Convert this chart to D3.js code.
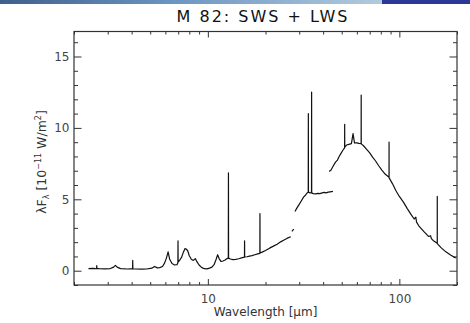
<!DOCTYPE html>
<html><head><meta charset="utf-8">
<script src="https://cdn.jsdelivr.net/npm/d3@7"></script>
<style>
html,body{margin:0;padding:0;background:#fff;}
svg{display:block;}
text{font-family:"DejaVu Sans",sans-serif;}
</style></head>
<body>
<script>
// ---- data ----
const title = "M 82: SWS + LWS";
const xMajorTicks = [10, 100];
const xMinorTicks = [2,3,4,5,6,7,8,9,20,30,40,50,60,70,80,90,200];
const yMajorTicks = [0, 5, 10, 15];
const yMinorTicks = [-1,1,2,3,4,6,7,8,9,11,12,13,14,16];

// SWS segment 1
const swsWave1 = [2.38,2.5,2.6,2.625,2.63,2.635,2.7,2.9,3.1,3.22,3.29,3.36,3.5,3.8,4.0,4.045,4.052,4.06,4.2,4.5,4.8,5.1,5.27,5.45,5.6,5.8,5.95,6.08,6.2,6.32,6.5,6.7,6.9,6.975,6.985,6.995,7.1,7.3,7.45,7.6,7.7,7.85,8.0,8.2,8.4,8.6,8.75,9.0,9.3,9.6,9.9,10.2,10.5,10.8,11.05,11.25,11.45,11.7,12.0,12.3,12.6,12.79,12.81,12.83,13.1,13.5,14.0,14.5,15.0,15.53,15.55,15.57,16.0,16.5,17.0,17.6,18.2,18.69,18.71,18.73,19.2,20.0,21.0,22.0,23.0,24.0,25.0,26.0,27.1];
const swsFlux1 = [0.15,0.16,0.14,0.15,0.35,0.15,0.14,0.13,0.15,0.25,0.37,0.25,0.15,0.12,0.13,0.13,0.72,0.13,0.12,0.11,0.12,0.18,0.3,0.2,0.22,0.3,0.55,0.9,1.32,0.8,0.5,0.4,0.42,0.55,2.1,0.6,0.7,0.95,1.3,1.55,1.52,1.4,1.05,0.8,0.72,0.85,0.65,0.4,0.22,0.14,0.13,0.18,0.25,0.45,0.8,1.12,0.85,0.65,0.68,0.75,0.85,0.88,6.85,0.88,0.82,0.78,0.8,0.84,0.9,0.95,2.1,0.96,0.98,1.02,1.06,1.12,1.18,1.22,4.0,1.24,1.3,1.42,1.58,1.72,1.86,2.02,2.15,2.28,2.38];
// short SWS fragment
const swsWave2 = [27.5, 28.1];
const swsFlux2 = [2.75, 2.92];
// SWS segment 3
const swsWave3 = [28.5,29.2,30.0,30.8,31.6,32.4,33.0,33.44,33.48,33.52,34.2,34.78,34.82,34.86,35.5,36.5,37.5,38.5,39.5,40.5,41.5,42.5,43.5,45.0];
const swsFlux3 = [4.15,4.4,4.65,4.9,5.15,5.3,5.45,5.5,11.0,5.5,5.45,5.45,12.5,5.45,5.4,5.38,5.42,5.4,5.45,5.48,5.45,5.5,5.52,5.55];
// LWS
const lwsWave = [43.0,44.0,45.0,46.4,47.5,48.5,49.5,50.5,51.78,51.82,51.86,53.0,54.5,56.2,57.3,58.3,60.0,61.5,63.16,63.2,63.24,65.0,67.5,70.0,72.5,75.0,78.0,81.0,84.5,88.33,88.37,88.41,92.0,96.0,100.0,105.0,110.0,115.0,119.5,121.9,123.0,127.0,134.0,142.0,145.5,147.0,150.0,157.72,157.76,157.8,165.0,175.0,185.0,197.0];
const lwsFlux = [6.95,7.05,7.3,7.6,7.75,8.0,8.2,8.4,8.6,10.25,8.65,8.8,8.85,8.9,9.6,8.95,8.95,8.92,8.9,12.3,8.88,8.75,8.5,8.25,7.95,7.7,7.35,7.05,6.75,6.55,9.0,6.5,6.1,5.6,5.2,4.8,4.35,3.95,3.62,3.75,3.4,3.1,2.75,2.4,2.45,2.25,2.12,1.92,5.2,1.9,1.62,1.32,1.1,0.89];

// ---- drawing ----
const W = 470, H = 323;
const svg = d3.select("body").append("svg").attr("width", W).attr("height", H);

// banner
const defs = svg.append("defs");
const grad = defs.append("linearGradient").attr("id","bann").attr("x1","0").attr("x2","1");
grad.append("stop").attr("offset","0").attr("stop-color","#3f5f8c");
grad.append("stop").attr("offset","0.45").attr("stop-color","#6b95c2");
grad.append("stop").attr("offset","1").attr("stop-color","#b3cadd");
svg.append("rect").attr("x",0).attr("y",0).attr("width",382).attr("height",4).attr("fill","url(#bann)");
svg.append("rect").attr("x",382).attr("y",0).attr("width",88).attr("height",4).attr("fill","#2d3894");

const L = 74, R = 457, T = 31.5, B = 285;
const x = d3.scaleLog().domain([2, 200]).range([L, R]);
const y = d3.scaleLinear().domain([-1, 16.75]).range([B, T]);

const axisColor = "#333";
function styleAxis(g){
  g.select(".domain").remove();
  g.selectAll("line").attr("stroke", axisColor);
  g.selectAll("text").attr("fill","#444").style("font-size","12px").style("font-family","DejaVu Sans");
}
// bottom
svg.append("g").attr("transform",`translate(0,${B})`)
  .call(d3.axisBottom(x).tickValues(xMajorTicks).tickSize(-6).tickPadding(9.5).tickFormat(d3.format("d"))).call(styleAxis);
svg.append("g").attr("transform",`translate(0,${B})`)
  .call(d3.axisBottom(x).tickValues(xMinorTicks).tickSize(-3).tickFormat("")).call(styleAxis);
// top
svg.append("g").attr("transform",`translate(0,${T})`)
  .call(d3.axisTop(x).tickValues(xMajorTicks).tickSize(-6).tickFormat("")).call(styleAxis);
svg.append("g").attr("transform",`translate(0,${T})`)
  .call(d3.axisTop(x).tickValues(xMinorTicks).tickSize(-3).tickFormat("")).call(styleAxis);
// left
svg.append("g").attr("transform",`translate(${L},0)`)
  .call(d3.axisLeft(y).tickValues(yMajorTicks).tickSize(-7.5).tickPadding(4.5)).call(styleAxis);
svg.append("g").attr("transform",`translate(${L},0)`)
  .call(d3.axisLeft(y).tickValues(yMinorTicks).tickSize(-4).tickFormat("")).call(styleAxis);
// right
svg.append("g").attr("transform",`translate(${R},0)`)
  .call(d3.axisRight(y).tickValues(yMajorTicks).tickSize(-7.5).tickFormat("")).call(styleAxis);
svg.append("g").attr("transform",`translate(${R},0)`)
  .call(d3.axisRight(y).tickValues(yMinorTicks).tickSize(-4).tickFormat("")).call(styleAxis);

// frame
svg.append("rect").attr("x",L).attr("y",T).attr("width",R-L).attr("height",B-T)
  .attr("fill","none").attr("stroke",axisColor).attr("stroke-width",1.2);

// spectrum
const line = d3.line().x(d => x(d[0])).y(d => y(d[1]));
const segs = [[swsWave1,swsFlux1],[swsWave2,swsFlux2],[swsWave3,swsFlux3],[lwsWave,lwsFlux]];
segs.forEach(([w,f]) => {
  svg.append("path").datum(w.map((v,i)=>[v,f[i]]))
    .attr("d", line).attr("fill","none").attr("stroke","#111")
    .attr("stroke-width",1.2).attr("stroke-linejoin","round");
});

// title
svg.append("text").attr("x",263).attr("y",21.5).attr("text-anchor","middle")
  .style("font-size","16px").style("letter-spacing","2px").attr("fill","#111").text(title);

// x label
svg.append("text").attr("x",265.5).attr("y",315.5).attr("text-anchor","middle")
  .style("font-size","12px").attr("fill","#333").text("Wavelength [μm]");

// y label
const yl = svg.append("text").attr("transform","translate(45.5,162) rotate(-90)")
  .attr("text-anchor","middle").style("font-size","12.5px").attr("fill","#333");
yl.append("tspan").text("λF");
yl.append("tspan").attr("dy","3").style("font-size","8px").text("λ");
yl.append("tspan").attr("dy","-3").text(" [10");
yl.append("tspan").attr("dy","-5").style("font-size","8px").text("−11");
yl.append("tspan").attr("dy","5").text(" W/m");
yl.append("tspan").attr("dy","-5").style("font-size","8px").text("2");
yl.append("tspan").attr("dy","5").text("]");
</script>
</body></html>
